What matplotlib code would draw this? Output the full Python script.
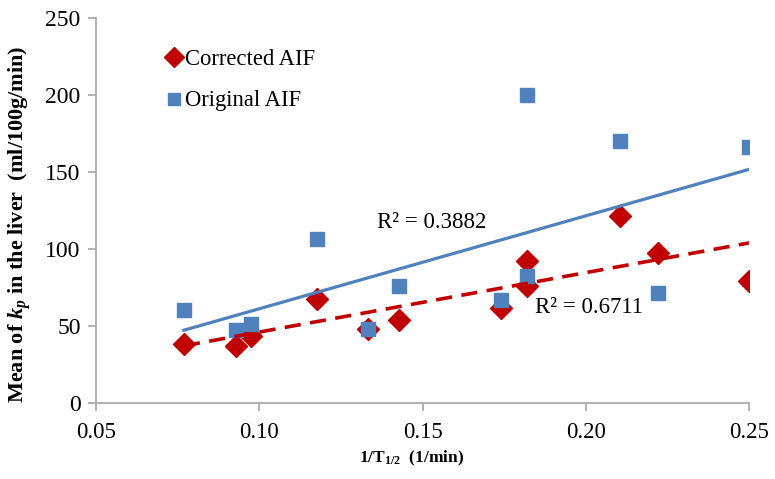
import numpy as np
import matplotlib
matplotlib.use("Agg")
import matplotlib.pyplot as plt

plt.rcParams['font.family'] = ['Liberation Serif', 'DejaVu Serif']
plt.rcParams['mathtext.fontset'] = 'custom'
plt.rcParams['mathtext.rm'] = 'Liberation Serif'
plt.rcParams['mathtext.it'] = 'Liberation Serif:italic'
plt.rcParams['mathtext.bf'] = 'Liberation Serif:bold'
plt.rcParams['mathtext.bfit'] = 'Liberation Serif:italic:bold'

# Data
inv_t_half = [0.0769, 0.0930, 0.0976, 0.1176, 0.1333, 0.1429, 0.1739, 0.1818, 0.1818, 0.2105, 0.2222, 0.2500]
corrected_aif = [38.0, 37.0, 43.0, 67.5, 48.0, 54.0, 61.5, 75.5, 92.0, 121.0, 97.0, 79.0]
original_aif = [60.0, 47.0, 51.0, 106.0, 48.0, 75.5, 67.0, 82.0, 200.0, 170.0, 71.0, 166.0]
r2_corrected_label = "R² = 0.6711"
r2_original_label = "R² = 0.3882"
x_ticks = [0.05, 0.10, 0.15, 0.20, 0.25]
y_ticks = [0, 50, 100, 150, 200, 250]

red = '#C00000'
blue = '#4F81BD'
grey = '#A6A6A6'

W, H = 775, 479
fig = plt.figure(figsize=(W / 100, H / 100), dpi=100)
ax = fig.add_axes([96 / W, 1 - 402.7 / H, (749.3 - 96) / W, (402.7 - 17.7) / H])

x = np.array(inv_t_half)
yc = np.array(corrected_aif)
yo = np.array(original_aif)

ax.plot(x, yc, linestyle='none', marker='D', markersize=11.5, color=red, label='Corrected AIF', zorder=3)
ax.plot(x, yo, linestyle='none', marker='s', markersize=9.5, color=blue, label='Original AIF', zorder=4)

xs = np.array([x.min(), x.max()])
pc = np.polyfit(x, yc, 1)
po = np.polyfit(x, yo, 1)
ax.plot(xs, np.polyval(po, xs), color=blue, lw=2.3, zorder=5)
ax.plot(xs, np.polyval(pc, xs), color=red, lw=2.6, linestyle=(0, (4.5, 2.6)), zorder=5)

ax.set_xlim(0.05, 0.25)
ax.set_ylim(0, 250)
ax.set_xticks(x_ticks)
ax.set_xticklabels([f"{v:.2f}" for v in x_ticks], fontsize=16.5)
ax.set_yticks(y_ticks)
ax.set_yticklabels([str(v) for v in y_ticks], fontsize=17)
for s in ['top', 'right']:
    ax.spines[s].set_visible(False)
for s in ['left', 'bottom']:
    ax.spines[s].set_color(grey)
    ax.spines[s].set_linewidth(1.2)
ax.tick_params(axis='both', direction='out', length=6, width=1.2, color=grey, labelcolor='black')
ax.tick_params(axis='x', pad=8)
ax.tick_params(axis='y', pad=5)

ax.text(0.136, 117, r2_original_label, fontsize=16.5, ha='left', va='center')
ax.text(0.1843, 62, r2_corrected_label, fontsize=16.5, ha='left', va='center')

leg = ax.legend(loc='upper left', frameon=False, fontsize=16.3, handlelength=0.6,
                handletextpad=0.2, labelspacing=0.9, borderaxespad=0.0, markerscale=0.85)
leg.set_bbox_to_anchor((158 / W, 1 - 40 / H), transform=fig.transFigure)

fig.text(20 / W, 1 - 224 / H, r"Mean of $\mathbfit{k}_{\mathbfit{p}}$ in the liver  (ml/100g/min)",
         rotation=90, ha='center', va='center', fontsize=16, fontweight='bold')
fig.text(412 / W, 1 - 458 / H, r"1/T$_{\mathbf{1/2}}$  (1/min)",
         ha='center', va='center', fontsize=12.5, fontweight='bold')

fig.savefig('out.png', dpi=100)
